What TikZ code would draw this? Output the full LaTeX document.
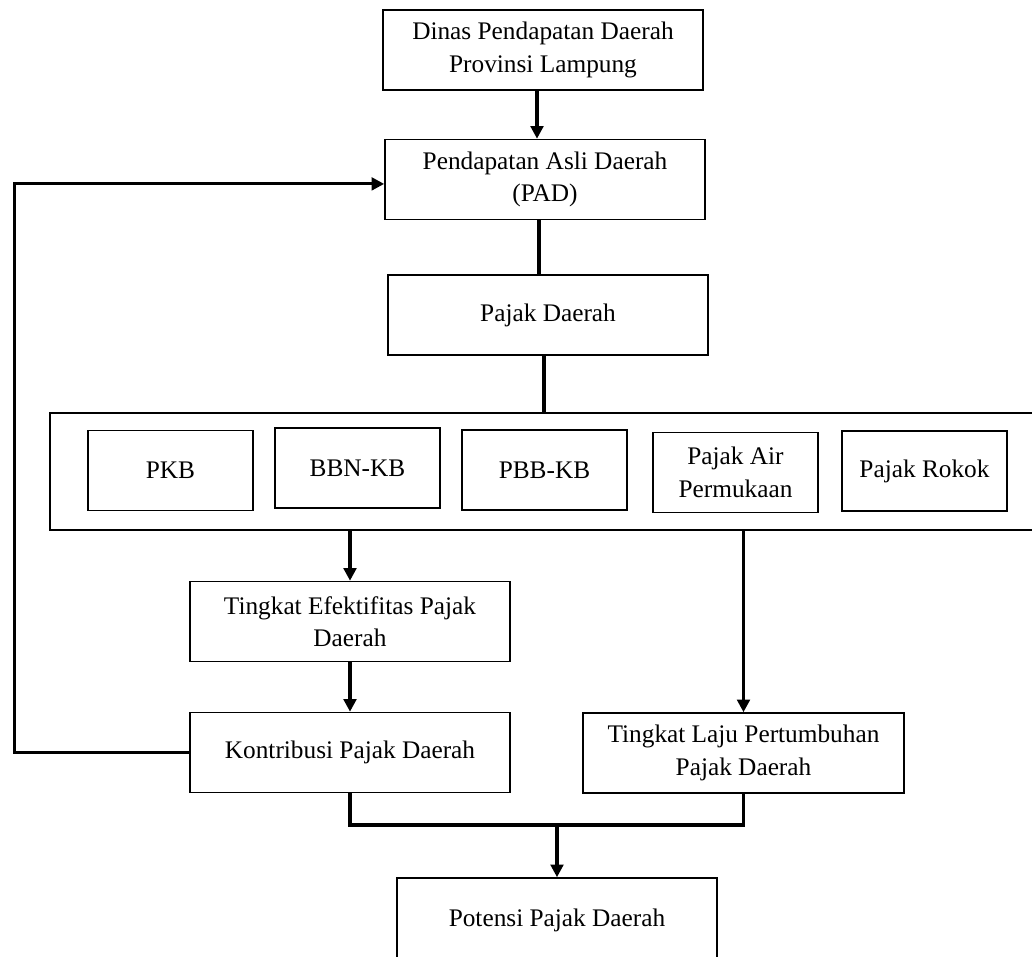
\documentclass[tikz,border=0pt]{standalone}
\usepackage{fontspec}
\setmainfont{Liberation Serif}
\usetikzlibrary{positioning, arrows.meta}

\begin{document}
\begin{tikzpicture}[
    x = 0.025cm, y = -0.025cm,
    every node/.style = {font = \fontsize{18}{23}\selectfont},
    box/.style        = {draw, line width = 1.1pt, inner sep = 0pt, minimum width = 8cm, minimum height = 2cm, align = center},
    taxbox/.style     = {box, minimum width = 4.125cm},
    line/.style       = {line width = 2.2pt},
    arr/.style        = {-{Triangle[length=9pt, width=9pt]}, line width = 2.2pt},
]
\useasboundingbox (0,0) rectangle (1032,956);

% ---------- explicit grid: (x, y) in px of the page, y downwards ----------
\node[box] (dinas)    at (543, 50)    {Dinas Pendapatan Daerah \\ Provinsi Lampung};
\node[box] (pad)      at (545, 179.5) {Pendapatan Asli Daerah \\ (PAD)};
\node[box] (pajak)    at (548, 315)   {Pajak Daerah};

\node[box, minimum width = 24.65cm, minimum height = 2.925cm] (taxgroup) at (543, 471.5) {};
\node[taxbox] (pkb)   at (170.5, 470.5) {PKB};
\node[taxbox] (bbnkb) at (357.5, 468)   {BBN-KB};
\node[taxbox] (pbbkb) at (544.5, 470)   {PBB-KB};
\node[taxbox] (pap)   at (735.5, 472.5) {Pajak Air \\ Permukaan};
\node[taxbox] (rokok) at (924.5, 471)   {Pajak Rokok};

\node[box] (efektif)  at (350, 621.5) {Tingkat Efektifitas Pajak \\ Daerah};
\node[box] (kontrib)  at (350, 752.5) {Kontribusi Pajak Daerah};
\node[box, minimum width = 8.025cm] (laju) at (743.5, 753) {Tingkat Laju Pertumbuhan \\ Pajak Daerah};
\node[box, minimum height = 2.1cm] (potensi) at (557, 920) {Potensi Pajak Daerah};

\coordinate (join) at (557, 825);

% ---------- main chain ----------
\draw[arr]  ([xshift=-0.15cm]dinas.south) -- ([xshift=-0.15cm]dinas.south |- pad.north);
\draw[line] ([xshift=-0.15cm]pad.south) -- ([xshift=-0.15cm]pad.south |- pajak.north);
\draw[line] ([xshift=-0.1cm]pajak.south) -- ([xshift=-0.1cm]pajak.south |- taxgroup.north);

\draw[arr] (efektif.north |- taxgroup.south) -- (efektif.north);
\draw[arr] (efektif) -- (kontrib);
\draw[arr] (laju.north |- taxgroup.south) -- (laju.north);

% ---------- merge into potensi ----------
\draw[line] (kontrib.south) |- (join) -| (laju.south);
\draw[arr] (join) -- (potensi.north);

% ---------- feedback to PAD ----------
\draw[arr] (kontrib.west) -- ++(-175, 0) |- ([yshift=-0.11cm]pad.west);

\end{tikzpicture}
\end{document}
